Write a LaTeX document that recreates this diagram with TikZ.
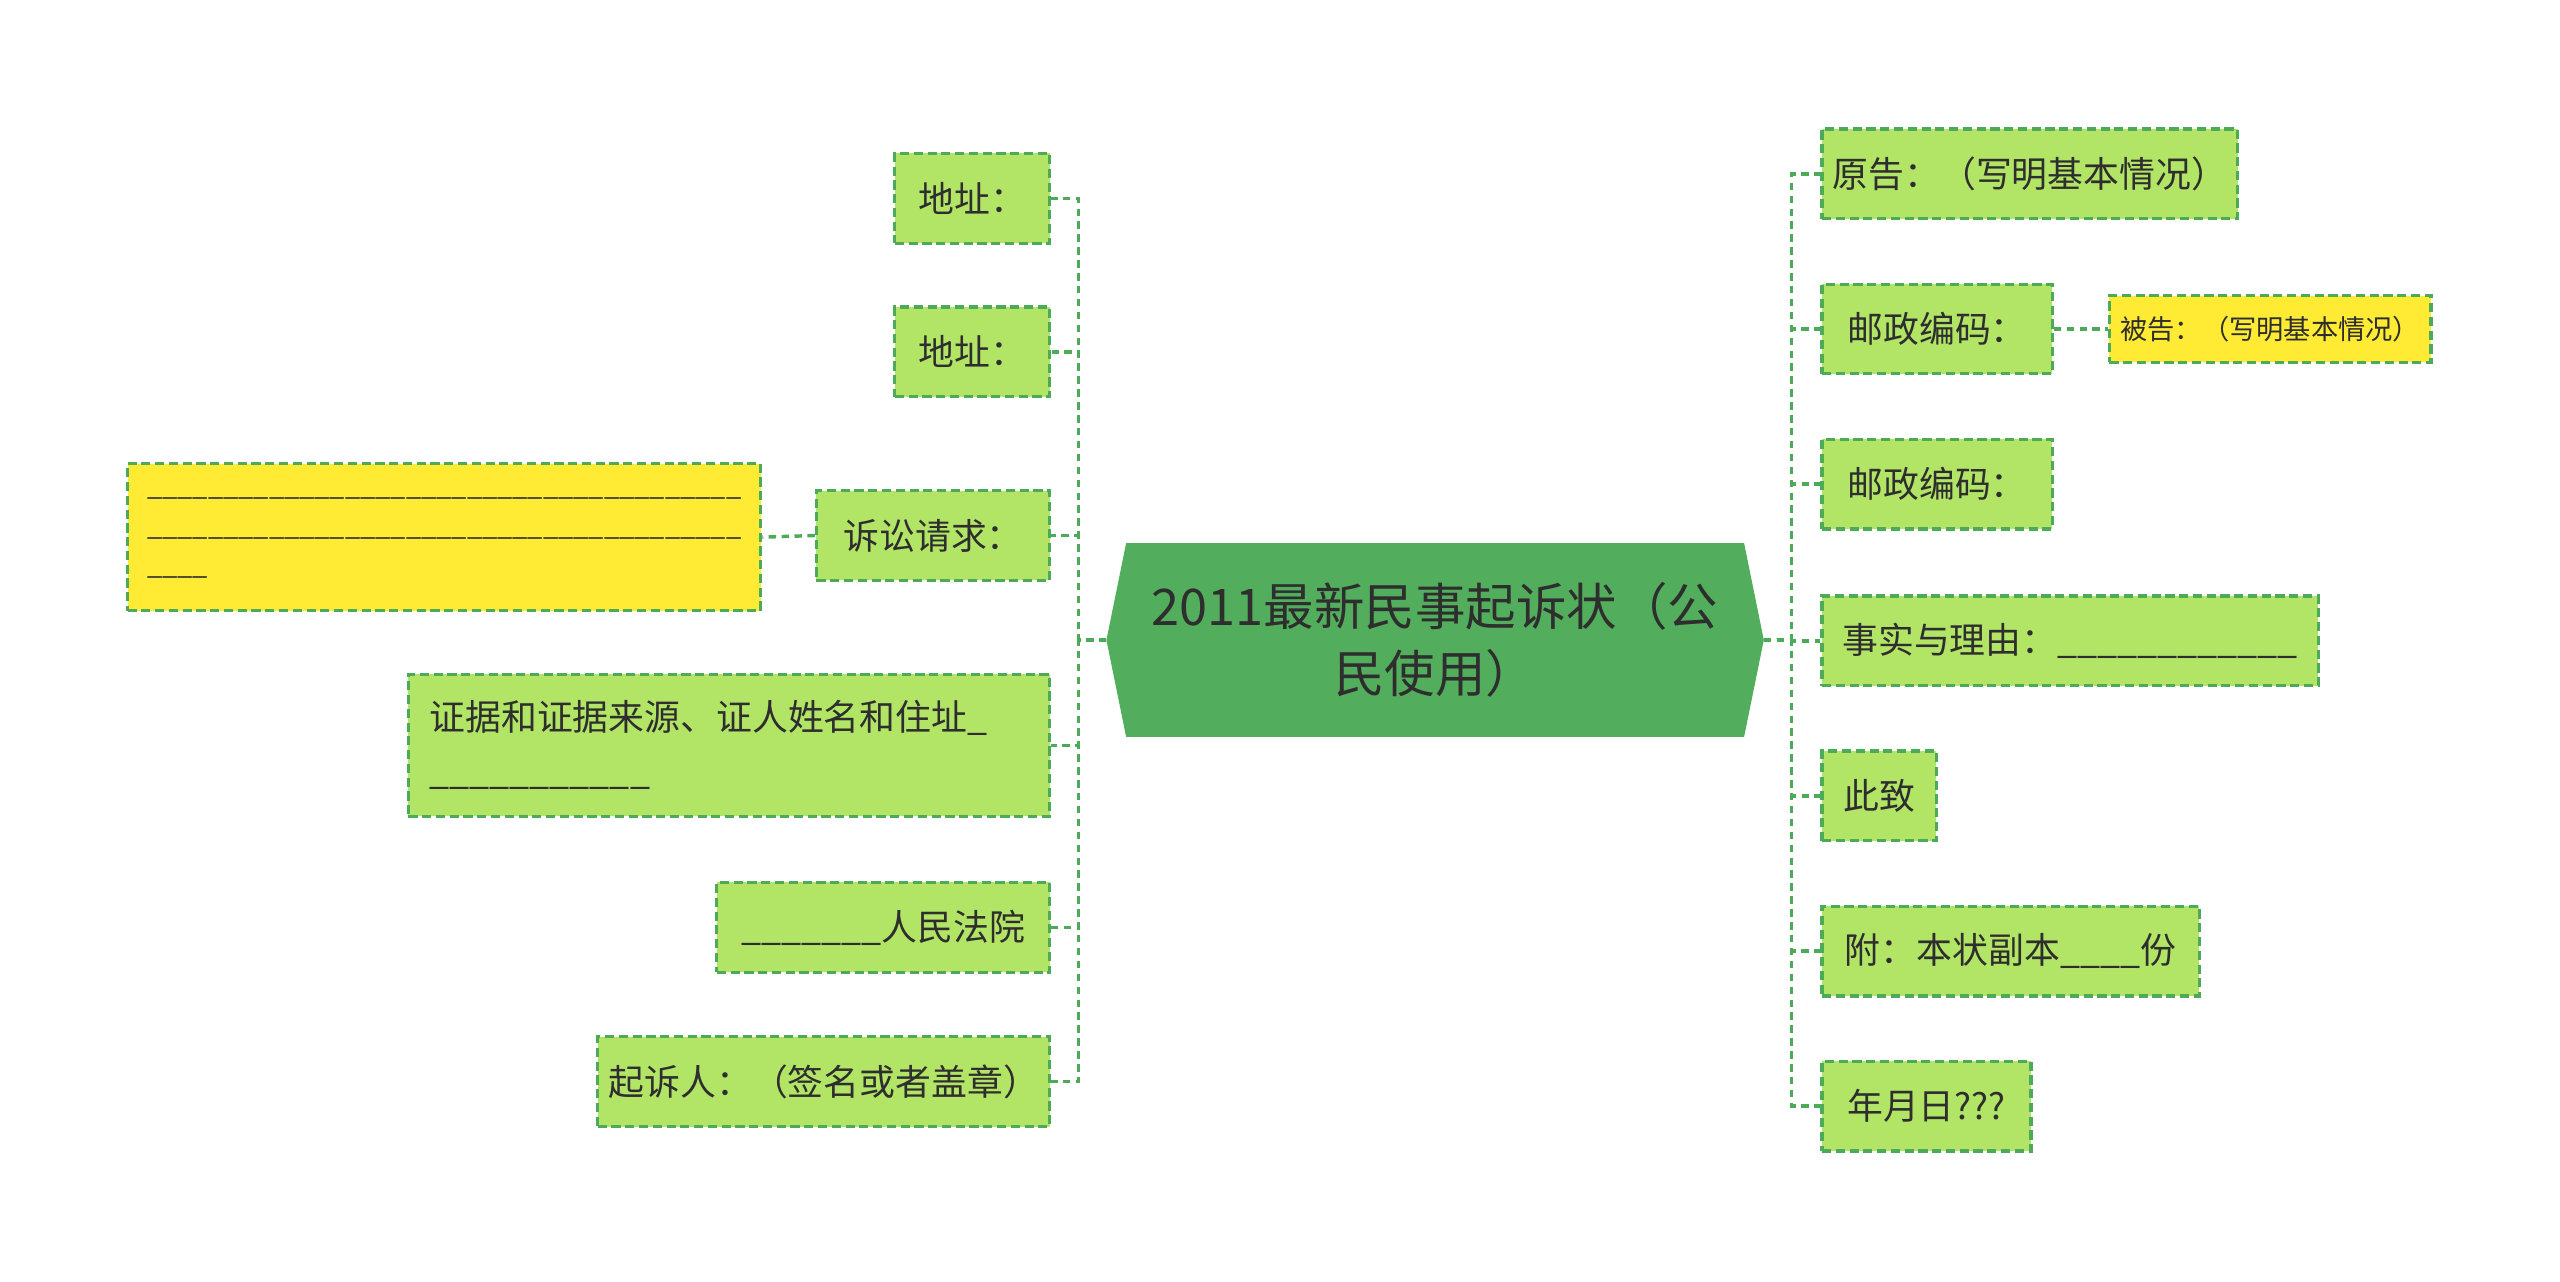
\documentclass[tikz,border=0pt]{standalone}
\usepackage{fontspec}
\setmainfont{Noto Sans CJK SC}
\usetikzlibrary{shapes.symbols}
\definecolor{rootgreen}{HTML}{52AE5C}
\definecolor{leafgreen}{HTML}{B2E466}
\definecolor{linegreen}{HTML}{4CAA58}
\definecolor{noteyellow}{HTML}{FFEB34}
\definecolor{inktext}{HTML}{2E2E2E}
\newcommand{\fillblank}[1]{\foreach \k in {1,...,#1}{\textunderscore}}
\tikzset{
  leafbox/.style={draw=linegreen, fill=leafgreen, line width=1.1pt,
    dash pattern=on 3.2pt off 1.6pt, minimum height=1.1cm, inner xsep=0.13cm,
    text=inktext, align=left, font=\fontsize{12.5}{18.8}\selectfont},
  notebox/.style={leafbox, fill=noteyellow, inner xsep=0.09cm,
    font=\fontsize{9.5}{13.7}\selectfont},
  rootbox/.style={shape=signal, signal to=west and east, signal pointer angle=157,
    fill=rootgreen, draw=rootgreen, text=inktext, align=center,
    minimum width=8.04cm, minimum height=2.36cm,
    font=\fontsize{17.6}{23.3}\selectfont},
  link/.style={draw=linegreen, line width=1.2pt, dash pattern=on 2.6pt off 1.9pt}
}

\begin{document}
\begin{tikzpicture}[x=0.02cm,y=-0.02cm]
  \useasboundingbox (0,0) rectangle (1568,785);
  \node[rootbox] (root) at (879,392) {2011最新民事起诉状（公\\民使用）};
  % left branch
  \foreach \nm/\y/\w/\lab in {
    addrA/121.5/1.9/{地址：},
    addrB/215.5/1.9/{地址：},
    claim/328/2.86/{诉讼请求：},
    court/568/4.08/{\fillblank{7}人民法院},
    sign/662.5/5.54/{起诉人：（签名或者盖章）}} {
    \node[leafbox, anchor=east, minimum width=\w cm] (\nm) at (644,\y) {\lab};
    \draw[link] (root.west) -- ++(-17,0) |- (\nm.east);
  }
  \node[leafbox, anchor=east, text width=7.34cm, inner xsep=0.26cm,
    minimum height=1.74cm] (evidence) at (644,456.5)
    {证据和证据来源、证人姓名和住址\textunderscore\\\fillblank{11}};
  \draw[link] (root.west) -- ++(-17,0) |- (evidence.east);
  % right branch
  \foreach \nm/\y/\w/\lab in {
    plaintiff/106.5/5.04/{原告：（写明基本情况）},
    postA/201.5/2.82/{邮政编码：},
    postB/296.5/2.82/{邮政编码：},
    facts/392.5/6.08/{事实与理由：\fillblank{12}},
    regards/487.5/1.4/{此致},
    attach/582.5/4.62/{附：本状副本\fillblank{4}份},
    date/677.5/2.56/{年月日???}} {
    \node[leafbox, anchor=west, minimum width=\w cm] (\nm) at (1115,\y) {\lab};
    \draw[link] (root.east) -- ++(17,0) |- (\nm.west);
  }
  % third level
  \node[notebox, anchor=east, minimum width=7.76cm, minimum height=1.8cm]
    (claimtext) at (467,329) {\fillblank{39}\\\fillblank{39}\\\fillblank{4}};
  \draw[link] (claim.west) -- (claimtext.east);
  \node[notebox, anchor=west, minimum width=3.94cm, minimum height=0.82cm]
    (defendant) at (1291,201.5) {被告：（写明基本情况）};
  \draw[link] (postA.east) -- (defendant.west);
\end{tikzpicture}
\end{document}
